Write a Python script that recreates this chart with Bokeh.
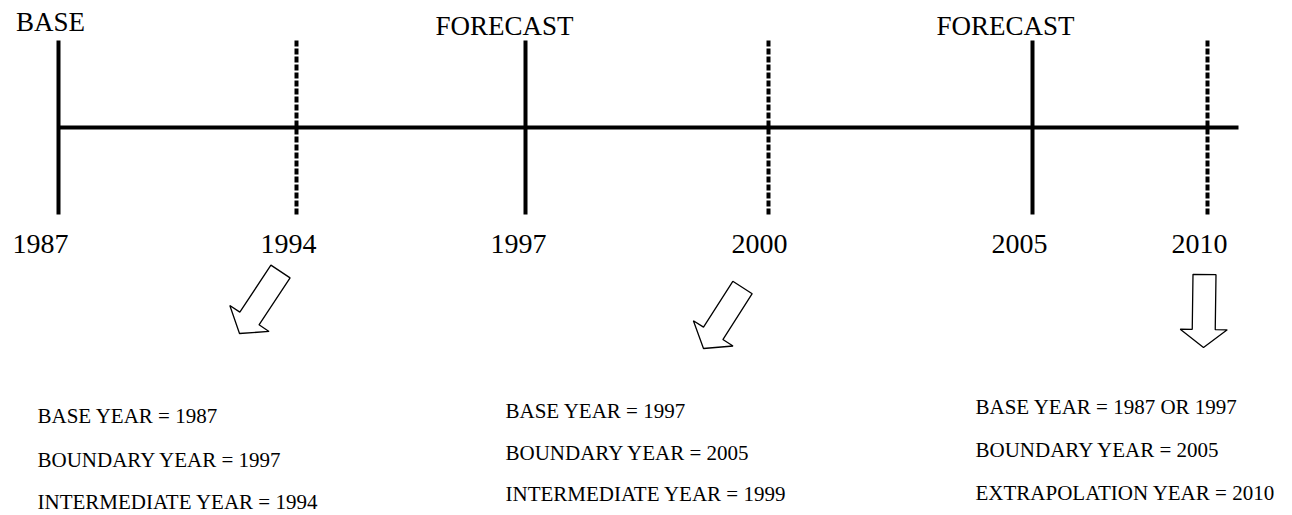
import math
from bokeh.plotting import figure
from bokeh.models import Range1d
from bokeh.core.properties import value
from bokeh.embed import file_html
from bokeh.resources import INLINE

# ---- data ----
years = [1987, 1994, 1997, 2000, 2005, 2010]
year_labels = ["1987", "1994", "1997", "2000", "2005", "2010"]
marker_style = ["solid", "dashed", "solid", "dashed", "solid", "dashed"]
top_label_years = [1987, 1997, 2005]
top_labels = ["BASE", "FORECAST", "FORECAST"]
arrow_years = [1994, 2000, 2010]
block1 = ["BASE YEAR = 1987", "BOUNDARY YEAR = 1997", "INTERMEDIATE YEAR = 1994"]
block2 = ["BASE YEAR = 1997", "BOUNDARY YEAR = 2005", "INTERMEDIATE YEAR = 1999"]
block3 = ["BASE YEAR = 1987 OR 1997", "BOUNDARY YEAR = 2005", "EXTRAPOLATION YEAR = 2010"]

# ---- layout (schematic positions in page pixels) ----
W, H = 1284, 515
marker_x = [58, 296, 525, 768, 1032, 1207]
label_x = [40, 288, 518, 759, 1019, 1199]
top_x = {1987: 50, 1997: 504, 2005: 1005}
top_y = {1987: 21, 1997: 25, 2005: 25}
axis_y, tick_top, tick_bottom = 127, 40, 214
line_end = 1238
year_label_y = 243
arrow_tail = [(280, 271), (742, 287), (1204, 274)]
arrow_tip = [(239, 333), (703, 348), (1203, 347)]
block_x = [37, 505, 975]
block_y = [[415, 459, 501], [410, 452, 493], [406, 449, 492]]

p = figure(width=W, height=H, output_backend="svg", toolbar_location=None,
           x_range=Range1d(0, W), y_range=Range1d(H, 0),
           min_border=0, min_border_left=0, min_border_right=0,
           min_border_top=0, min_border_bottom=0)
p.axis.visible = False
p.grid.visible = False
p.outline_line_color = None
p.background_fill_color = "white"
p.border_fill_color = "white"

FONT = value("Liberation Serif")

# main timeline
p.line([marker_x[0], line_end], [axis_y, axis_y], line_color="black", line_width=4)

# year markers
for yr, x, st in zip(years, marker_x, marker_style):
    if st == "solid":
        p.line([x, x], [tick_top, tick_bottom], line_color="black", line_width=4)
    else:
        p.line([x, x], [tick_top, tick_bottom], line_color="black", line_width=4,
               line_dash="6 2")

# year labels
p.text(x=label_x, y=[year_label_y] * len(years), text=year_labels,
       text_font=FONT, text_font_size="28px", text_align="center",
       text_baseline="middle", text_color="black")

# top labels
p.text(x=[top_x[y] for y in top_label_years], y=[top_y[y] for y in top_label_years],
       text=top_labels, text_font=FONT, text_font_size="27px",
       text_align="center", text_baseline="middle", text_color="black")

# outlined arrows
def arrow_poly(tail, tip, half_shaft=11.5, half_head=23.5, head_len=18):
    tx, ty = tail
    px, py = tip
    dx, dy = px - tx, py - ty
    L = math.hypot(dx, dy)
    ux, uy = dx / L, dy / L
    vx, vy = -uy, ux
    local = [(0, -half_shaft), (L - head_len, -half_shaft), (L - head_len, -half_head),
             (L, 0), (L - head_len, half_head), (L - head_len, half_shaft), (0, half_shaft)]
    xs = [tx + a * ux + b * vx for a, b in local]
    ys = [ty + a * uy + b * vy for a, b in local]
    return xs, ys

axs, ays = [], []
for t, h in zip(arrow_tail, arrow_tip):
    xs, ys = arrow_poly(t, h)
    axs.append(xs)
    ays.append(ys)
p.patches(axs, ays, fill_color="white", line_color="black", line_width=1.3)

# text blocks
for bx, bys, lines in zip(block_x, block_y, [block1, block2, block3]):
    p.text(x=[bx] * len(lines), y=bys, text=lines, text_font=FONT,
           text_font_size="21px", text_align="left", text_baseline="middle",
           text_color="black")

open("out.html", "w").write(file_html(p, INLINE))
